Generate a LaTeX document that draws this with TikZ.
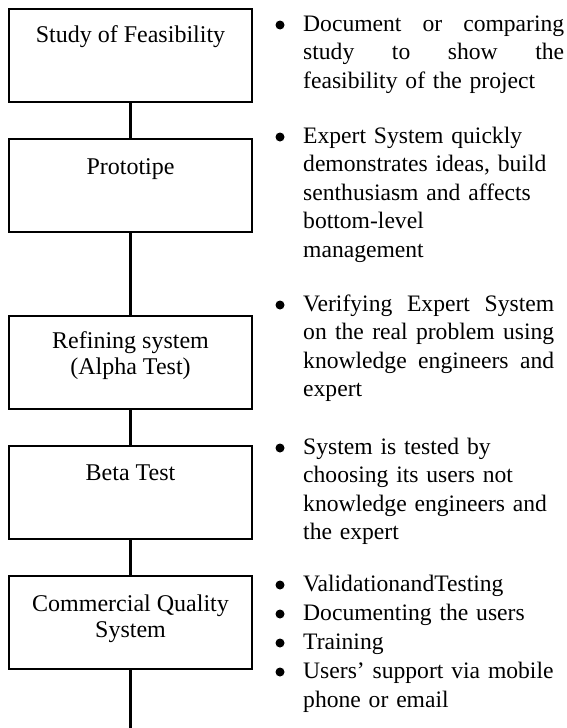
\documentclass[tikz,border=0pt]{standalone}
\usepackage{fontspec}
\setmainfont{Liberation Serif}
% a line of a justified paragraph, spread to the given width
\newcommand{\fullline}[2][261pt]{\makebox[#1][s]{\spaceskip=0.25em plus 1fil\relax#2}}
\begin{document}
\begin{tikzpicture}[x=1pt,y=-1pt,
  stage/.style={draw, line width=2pt, minimum width=243pt, minimum height=93pt, inner sep=0pt},
  stagetext/.style={anchor=base, inner sep=0pt, align=center,
    font=\fontsize{24}{26}\selectfont},
  link/.style={line width=3pt},
  dot/.style={circle, fill, inner sep=0pt, minimum size=9pt},
  note/.style={anchor=base west, inner sep=0pt, text width=261pt, align=left,
    font=\fontsize{23.6}{28.5}\selectfont},
  notefive/.style={note, font=\fontsize{23.6}{29}\selectfont}]
\useasboundingbox (0,0) rectangle (567,728);

% stages of the development process
\node[stage] (s1) at (130.5,55.5) {};
\node[stage] (s2) at (130.5,185) {};
\node[stage] (s3) at (130.5,362.5) {};
\node[stage] (s4) at (130.5,492.5) {};
\node[stage] (s5) at (130.5,622.5) {};

% stage names (two-line names are placed by their last baseline)
\node[stagetext] (t1) at (130.5,42) {Study of Feasibility};
\node[stagetext] (t2) at (130.5,174) {Prototipe};
\node[stagetext] (t3) at (130.5,374) {Refining system\\(Alpha Test)};
\node[stagetext] (t4) at (130.5,480) {Beta Test};
\node[stagetext] (t5) at (130.5,637) {Commercial Quality\\System};

\coordinate (end) at (130.5,728);

% vertical connectors
\draw[link] (s1.south) -- (s2.north);
\draw[link] (s2.south) -- (s3.north);
\draw[link] (s3.south) -- (s4.north);
\draw[link] (s4.south) -- (s5.north);
\draw[link] (s5.south) -- (end);

% notes beside each stage
\node[dot] (b1) at (280,25) {};
\node[note] (n1) at (303,31) {\fullline{Document or comparing}\\
  \fullline{study to show the}\\feasibility of the project};

\node[dot] (b2) at (280,137) {};
\node[note] (n2) at (303,143) {Expert System quickly\\demonstrates ideas, build\\
  senthusiasm and affects\\bottom-level\\management};

\node[dot] (b3) at (280,305) {};
\node[note] (n3) at (303,311) {\fullline[251pt]{Verifying Expert System}\\
  \fullline[251pt]{on the real problem using}\\
  \fullline[251pt]{knowledge engineers and}\\expert};

\node[dot] (b4) at (280,448) {};
\node[note] (n4) at (303,454) {System is tested by\\choosing its users not\\
  knowledge engineers and\\the expert};

\node[dot] (b5a) at (280,585) {};
\node[dot] (b5b) at (280,614) {};
\node[dot] (b5c) at (280,643) {};
\node[dot] (b5d) at (280,672) {};
\node[notefive] (n5) at (303,591) {ValidationandTesting\\Documenting the users\\
  Training\\Users’ support via mobile\\phone or email};
\end{tikzpicture}
\end{document}
